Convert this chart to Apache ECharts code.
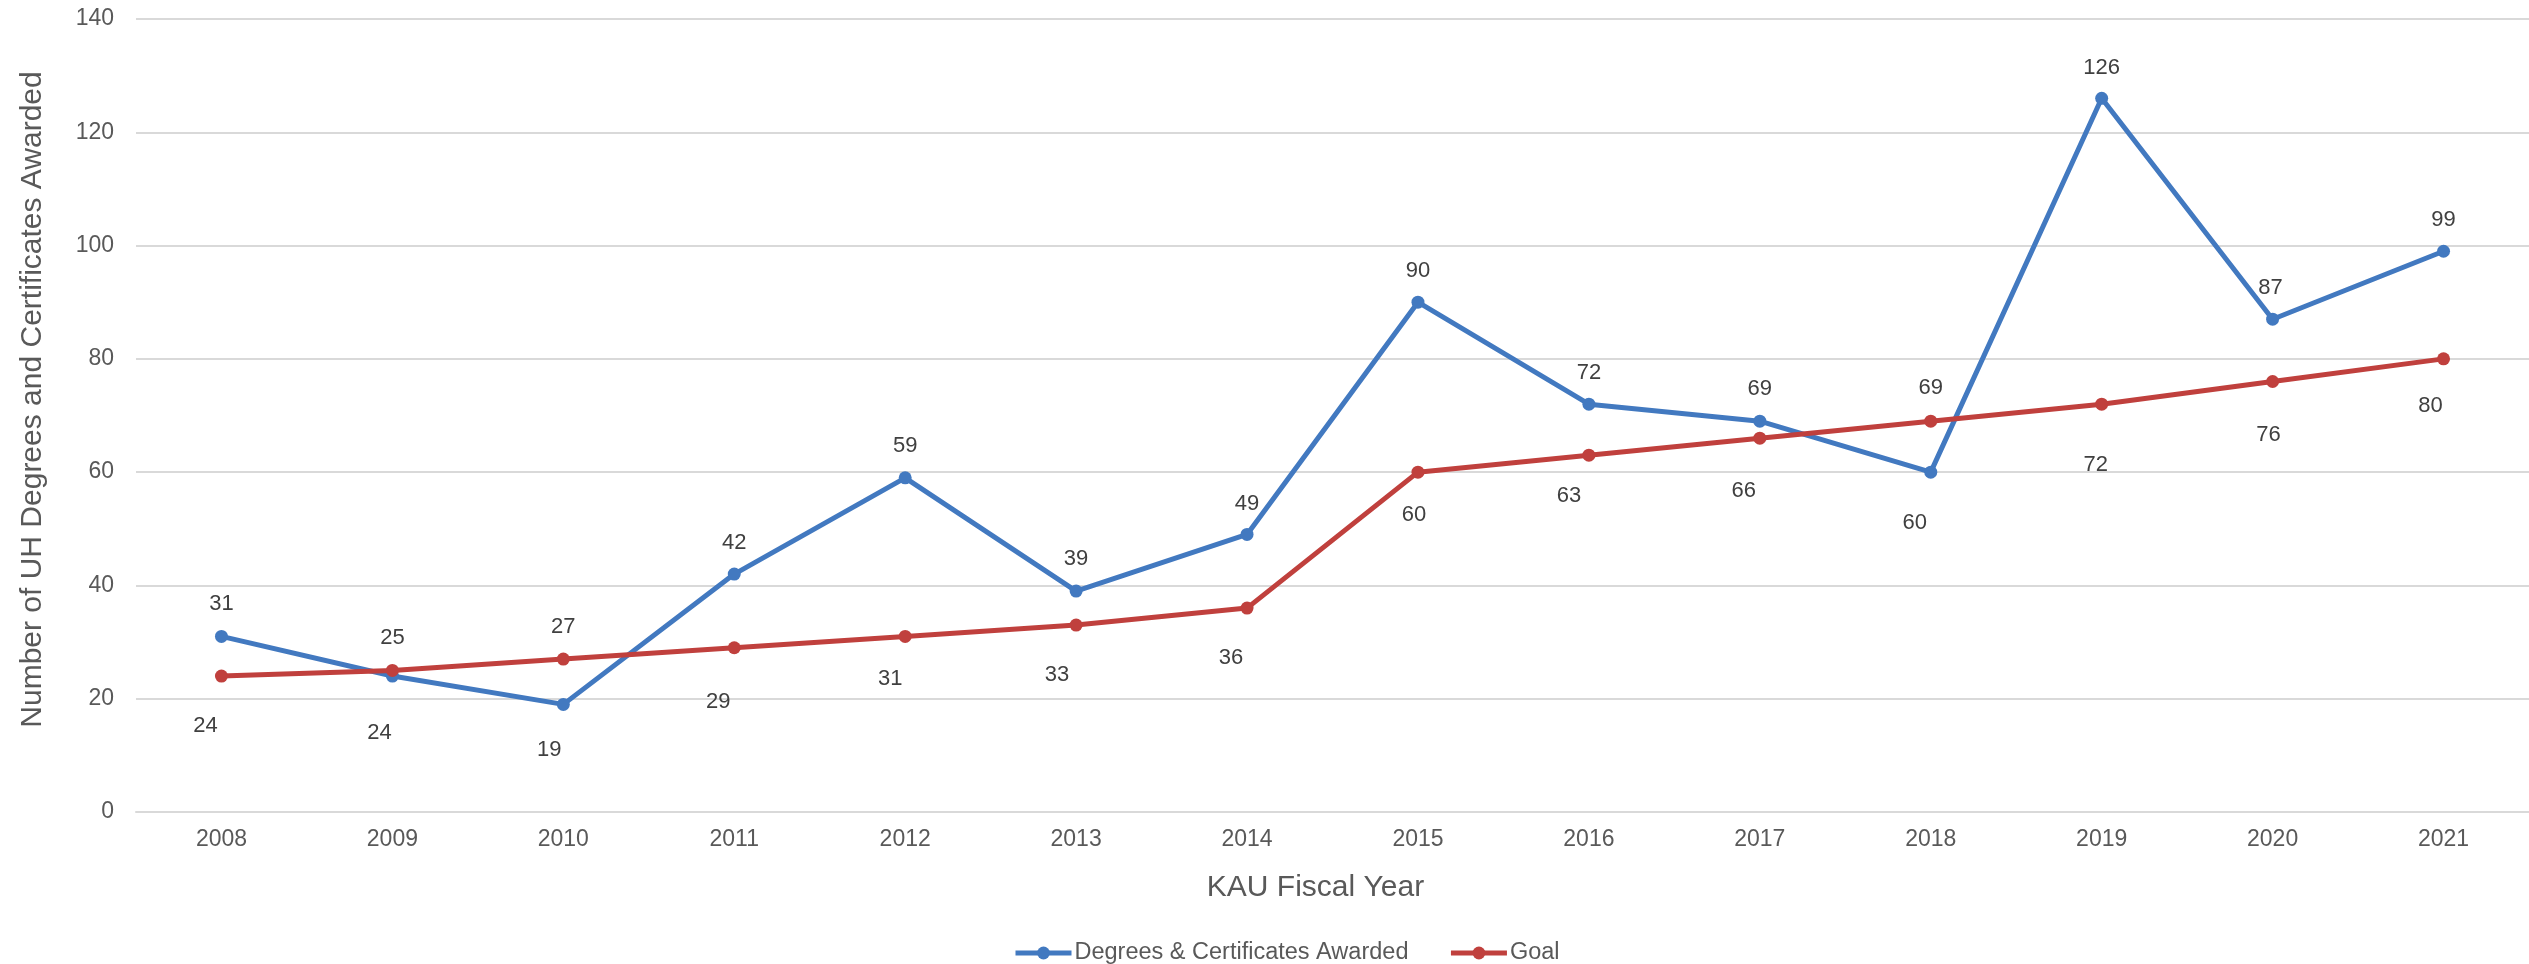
<!DOCTYPE html>
<html>
<head>
<meta charset="utf-8">
<script src="https://cdn.jsdelivr.net/npm/echarts@6/dist/echarts.min.js"></script>
<style>
html,body{margin:0;padding:0;background:#fff;}
#chart{width:2529px;height:964px;}
</style>
</head>
<body>
<div id="chart"></div>
<script>
// ---- data ----
const years = ['2008','2009','2010','2011','2012','2013','2014','2015','2016','2017','2018','2019','2020','2021'];
const degreesAwarded = [31, 24, 19, 42, 59, 39, 49, 90, 72, 69, 60, 126, 87, 99];
const goal = [24, 25, 27, 29, 31, 33, 36, 60, 63, 66, 69, 72, 76, 80];
const yTicks = { min: 0, max: 140, step: 20 };

// ---- label placement (styling only: offsets from each point, px) ----
const degreesLabelOffsets = [[0,-32],[-13,57],[-14,46],[0,-31],[0,-32],[0,-32],[0,-31],[0,-31],[0,-31],[0,-32],[-16,51],[0,-30],[-2,-31],[0,-31]];
const goalLabelOffsets = [[-16,50],[0,-32],[0,-32],[-16,54],[-15,43],[-19,50],[-16,50],[-4,43],[-20,41],[-16,53],[0,-33],[-6,61],[-4,53],[-13,47]];

const FONT = '"Liberation Sans", Arial, Helvetica, sans-serif';
const BLUE = '#4279C0';
const RED = '#C0403D';

function withLabels(values, offsets) {
  return values.map((v, i) => ({
    value: v,
    label: { offset: offsets[i] }
  }));
}

const chart = echarts.init(document.getElementById('chart'), null, { renderer: 'canvas' });

const labelStyle = {
  show: true,
  position: 'inside',
  align: 'center',
  verticalAlign: 'middle',
  color: '#404040',
  fontSize: 22,
  fontFamily: FONT
};

chart.setOption({
  animation: false,
  backgroundColor: '#ffffff',
  textStyle: { fontFamily: FONT },
  grid: { left: 136, top: 19, width: 2396, bottom: 152, containLabel: false },
  legend: {
    left: 1008,
    top: 936,
    itemWidth: 56,
    itemHeight: 16,
    itemGap: 40,
    lineStyle: { width: 5 },
    textStyle: { color: '#595959', fontSize: 23.5, fontFamily: FONT, padding: [0, 0, 0, -2] },
    data: ['Degrees & Certificates Awarded', 'Goal']
  },
  xAxis: {
    type: 'category',
    data: years,
    boundaryGap: true,
    name: 'KAU Fiscal Year',
    nameLocation: 'middle',
    nameGap: 61,
    nameTextStyle: { color: '#595959', fontSize: 30, fontFamily: FONT, padding: [0, 34, 0, 0] },
    axisLine: { show: true, lineStyle: { color: '#d9d9d9', width: 2 } },
    axisTick: { show: false },
    axisLabel: { color: '#595959', fontSize: 23, margin: 16, fontFamily: FONT },
    splitLine: { show: false }
  },
  yAxis: {
    type: 'value',
    min: yTicks.min,
    max: yTicks.max,
    interval: yTicks.step,
    name: 'Number of UH Degrees and Certificates Awarded',
    nameLocation: 'middle',
    nameGap: 88,
    nameRotate: 90,
    nameTextStyle: { color: '#595959', fontSize: 30, fontFamily: FONT, padding: [0, 0, 0, 32] },
    axisLine: { show: false },
    axisTick: { show: false },
    axisLabel: { color: '#595959', fontSize: 23, margin: 22, fontFamily: FONT },
    splitLine: { show: true, lineStyle: { color: '#d9d9d9', width: 2 } }
  },
  series: [
    {
      name: 'Degrees & Certificates Awarded',
      type: 'line',
      data: withLabels(degreesAwarded, degreesLabelOffsets),
      symbol: 'circle',
      symbolSize: 13,
      lineStyle: { color: BLUE, width: 5 },
      itemStyle: { color: BLUE },
      label: labelStyle,
      z: 3
    },
    {
      name: 'Goal',
      type: 'line',
      data: withLabels(goal, goalLabelOffsets),
      symbol: 'circle',
      symbolSize: 13,
      lineStyle: { color: RED, width: 5 },
      itemStyle: { color: RED },
      label: labelStyle,
      z: 4
    }
  ]
});
</script>
</body>
</html>
